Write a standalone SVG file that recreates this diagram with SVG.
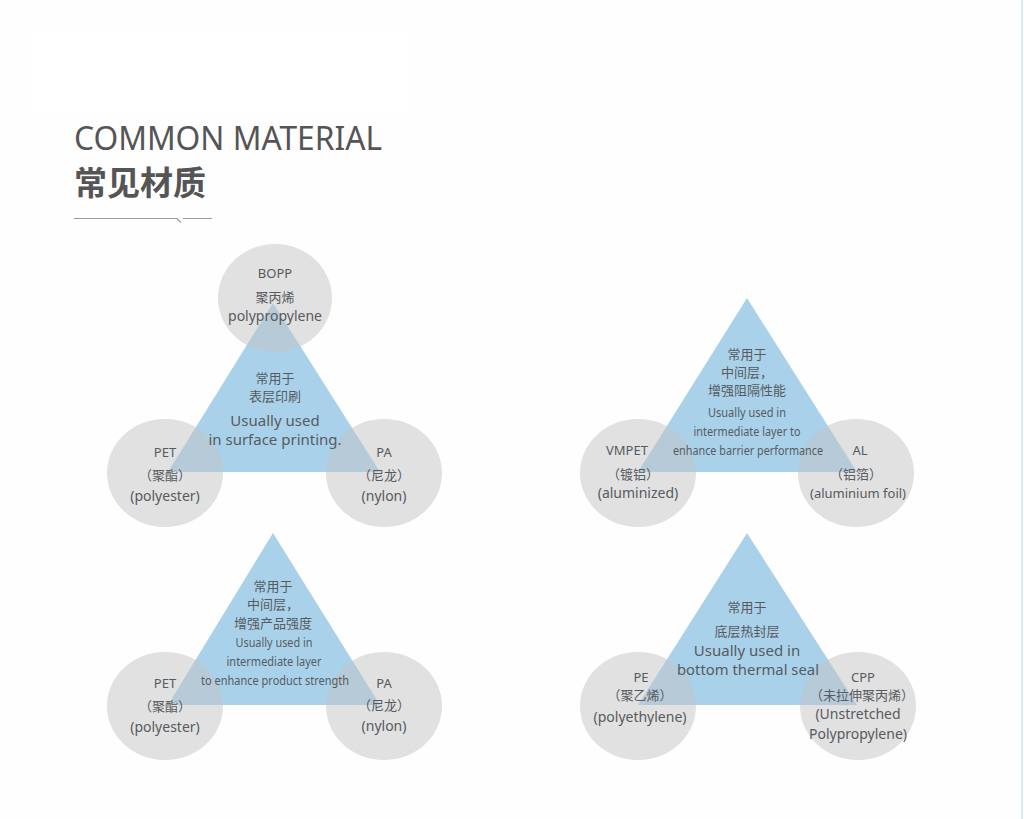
<svg xmlns="http://www.w3.org/2000/svg" width="1024" height="819" viewBox="0 0 1024 819">
<style>
.tri{fill:#a9d2ea}
.cir{fill:#c4c4c4;fill-opacity:0.5}
text{font-family:"Noto Sans","Noto Sans CJK SC",sans-serif;fill:#575a5f;text-anchor:middle}
.s13{font-size:13px}
.s14{font-size:14px}
.s15{font-size:15px}
.cn{font-family:"Noto Sans CJK SC",sans-serif;font-size:13px}
.nar{font-size:13px}
</style>
<rect width="1024" height="819" fill="#fefefe"/>
<rect x="33" y="31" width="374" height="80" fill="#ffffff"/>
<line x1="1022" y1="0" x2="1022" y2="819" stroke="#dfe7f0" stroke-width="2"/>
<g id="title">
<text x="74" y="150" style="font-size:32px;text-anchor:start;fill:#555" textLength="308" lengthAdjust="spacingAndGlyphs">COMMON MATERIAL</text>
<text x="74" y="195" style="font-family:'Noto Sans CJK SC',sans-serif;font-size:33px;font-weight:bold;text-anchor:start;fill:#555">常见材质</text>
<path d="M74 218.5H177L181 222.5M183 218.5H212" fill="none" stroke="#9a9a9a" stroke-width="1.2"/>
</g>
<g id="connectors"></g>

<g id="group-surface">
<polygon class="tri" points="273,303 168,472 380,472"/>
<g id="node-bopp"><ellipse class="cir" cx="275" cy="298" rx="57" ry="54"/>
<text class="s13" x="275" y="278">BOPP</text>
<text class="cn" x="275" y="302">聚丙烯</text>
<text class="s14" x="275" y="321">polypropylene</text></g>
<g id="node-pet1"><ellipse class="cir" cx="165" cy="473" rx="58" ry="54"/>
<text class="s13" x="165" y="457">PET</text>
<text class="cn" x="165" y="480">（聚酯）</text>
<text class="s14" x="165" y="501">(polyester)</text></g>
<g id="node-pa1"><ellipse class="cir" cx="384" cy="473" rx="58" ry="54"/>
<text class="s13" x="384" y="457">PA</text>
<text class="cn" x="384" y="480">（尼龙）</text>
<text class="s14" x="384" y="501">(nylon)</text></g>
<text class="cn" x="275" y="383">常用于</text>
<text class="cn" x="275" y="401">表层印刷</text>
<text class="s15" x="275" y="426">Usually used</text>
<text class="s15" x="275" y="445">in surface printing.</text>
</g>

<g id="group-barrier">
<polygon class="tri" points="747,298 638,472 857,472"/>
<g id="node-vmpet"><ellipse class="cir" cx="638" cy="473" rx="58" ry="54"/>
<text class="s13" x="627" y="455">VMPET</text>
<text class="cn" x="633" y="479">（镀铝）</text>
<text class="s14" x="638" y="498">(aluminized)</text></g>
<g id="node-al"><ellipse class="cir" cx="856" cy="473" rx="58" ry="54"/>
<text class="s13" x="860" y="455">AL</text>
<text class="cn" x="856" y="479">（铝箔）</text>
<text class="s13" x="858" y="498">(aluminium foil)</text></g>
<text class="cn" x="747" y="359">常用于</text>
<text class="cn" x="747" y="377">中间层，</text>
<text class="cn" x="747" y="395">增强阻隔性能</text>
<text class="nar" x="747" y="417" textLength="78" lengthAdjust="spacingAndGlyphs">Usually used in</text>
<text class="nar" x="747" y="436" textLength="107" lengthAdjust="spacingAndGlyphs">intermediate layer to</text>
<text class="nar" x="748" y="455" textLength="150" lengthAdjust="spacingAndGlyphs">enhance barrier performance</text>
</g>

<g id="group-strength">
<polygon class="tri" points="273,533 168,705 380,705"/>
<g id="node-pet2"><ellipse class="cir" cx="165" cy="706" rx="58" ry="54"/>
<text class="s13" x="165" y="688">PET</text>
<text class="cn" x="165" y="711">（聚酯）</text>
<text class="s14" x="165" y="732">(polyester)</text></g>
<g id="node-pa2"><ellipse class="cir" cx="384" cy="706" rx="58" ry="54"/>
<text class="s13" x="384" y="688">PA</text>
<text class="cn" x="384" y="710">（尼龙）</text>
<text class="s14" x="384" y="731">(nylon)</text></g>
<text class="cn" x="273" y="591">常用于</text>
<text class="cn" x="273" y="609">中间层，</text>
<text class="cn" x="273" y="628">增强产品强度</text>
<text class="nar" x="274" y="647" textLength="77" lengthAdjust="spacingAndGlyphs">Usually used in</text>
<text class="nar" x="274" y="666" textLength="95" lengthAdjust="spacingAndGlyphs">intermediate layer</text>
<text class="nar" x="275" y="685" textLength="148" lengthAdjust="spacingAndGlyphs">to enhance product strength</text>
</g>

<g id="group-seal">
<polygon class="tri" points="747,533 638,705 857,705"/>
<g id="node-pe"><ellipse class="cir" cx="638" cy="706" rx="58" ry="54"/>
<text class="s13" x="641" y="682">PE</text>
<text class="cn" x="640" y="700">（聚乙烯）</text>
<text class="s14" x="640" y="722">(polyethylene)</text></g>
<g id="node-cpp"><ellipse class="cir" cx="858" cy="706" rx="58" ry="54"/>
<text class="s13" x="863" y="682">CPP</text>
<text class="cn" x="862" y="700">（未拉伸聚丙烯）</text>
<text class="s14" x="858" y="719">(Unstretched</text>
<text class="s14" x="858" y="739">Polypropylene)</text></g>
<text class="cn" x="747" y="612">常用于</text>
<text class="cn" x="747" y="636">底层热封层</text>
<text class="s15" x="747" y="656">Usually used in</text>
<text class="s15" x="748" y="675" textLength="142" lengthAdjust="spacingAndGlyphs">bottom thermal seal</text>
</g>
</svg>
